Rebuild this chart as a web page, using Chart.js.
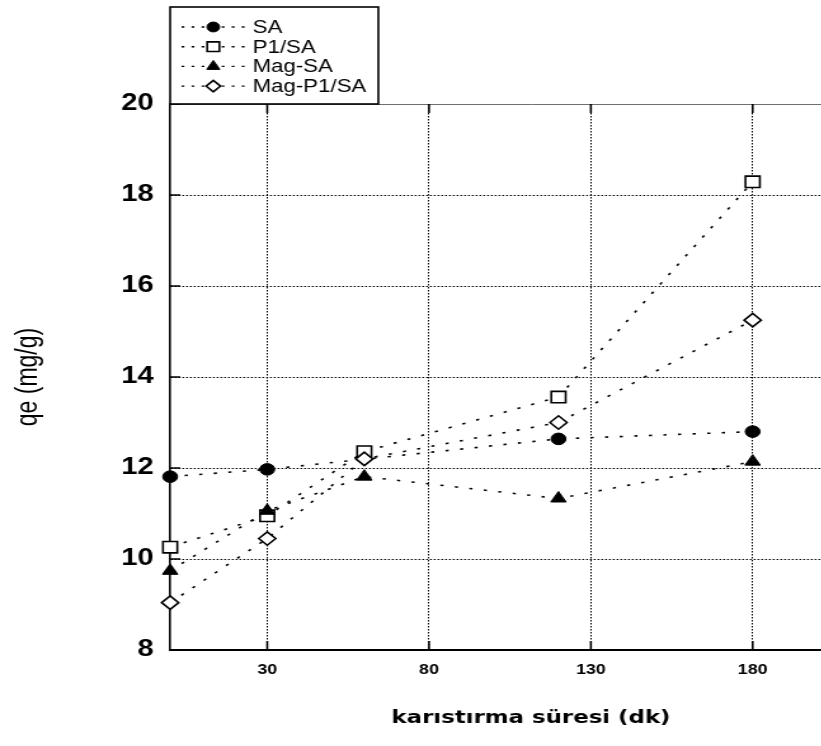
<!DOCTYPE html>
<html>
<head>
<meta charset="utf-8">
<title>qe - karıstırma süresi</title>
<script src="https://cdn.jsdelivr.net/npm/chart.js@4/dist/chart.umd.min.js"></script>
<style>
  html, body { margin: 0; padding: 0; background: #fff; overflow: hidden; }
</style>
</head>
<body>
<!-- canvas is drawn narrow and widened by css, the plot runs off the right edge -->
<canvas id="qeChart" width="712" height="746" style="display:block;width:904px;height:746px"></canvas>
<script>
// karıstırma süresi (dk)
var timeValues = [0, 30, 60, 120, 180];
// qe (mg/g) per sample, null where there is no measurement
var saValues = [11.81, 11.97, null, 12.64, 12.80];
var p1saValues = [10.26, 10.95, 12.36, 13.56, 18.29];
var magSaValues = [9.74, 11.06, 11.81, 11.33, 12.14];
var magP1saValues = [9.04, 10.45, 12.20, 13.00, 15.25];

var seriesLabels = ['SA', 'P1/SA', 'Mag-SA', 'Mag-P1/SA'];
var xTickValues = [30, 80, 130, 180];

var FONT = '"Liberation Sans", Arial, sans-serif';

function points(vals) {
  return timeValues.map(function (t, i) { return { x: t, y: vals[i] }; });
}

function series(label, vals, style, radius, filled, order) {
  return {
    label: label,
    data: points(vals),
    order: order,
    showLine: true,
    spanGaps: true,
    fill: false,
    clip: false,
    borderColor: '#000',
    borderWidth: 1.6,
    borderDash: [2.5, 9],
    pointStyle: style,
    pointRadius: radius,
    pointHoverRadius: radius,
    pointBackgroundColor: filled ? '#000' : '#fff',
    pointBorderColor: '#000',
    pointBorderWidth: filled ? 1 : 1.6
  };
}

function line(ctx, x1, y1, x2, y2) {
  ctx.beginPath();
  ctx.moveTo(x1, y1);
  ctx.lineTo(x2, y2);
  ctx.stroke();
}

// top edge of the frame and the short inward tick marks
var frameMarks = {
  id: 'frameMarks',
  beforeDatasetsDraw: function (chart) {
    var ctx = chart.ctx, a = chart.chartArea;
    var xs = chart.scales.x, ys = chart.scales.y;
    ctx.save();
    ctx.strokeStyle = '#707070';
    ctx.lineWidth = 1;
    line(ctx, a.left, a.top + 0.5, a.right, a.top + 0.5);
    ctx.strokeStyle = '#000';
    ctx.lineWidth = 1.6;
    xs.ticks.forEach(function (t) {
      var px = xs.getPixelForValue(t.value);
      line(ctx, px, a.bottom, px, a.bottom - 9);
      line(ctx, px, a.top, px, a.top + 9);
    });
    ctx.lineWidth = 1.5;
    ys.ticks.forEach(function (t) {
      var py = ys.getPixelForValue(t.value);
      line(ctx, a.left, py, a.left + 8, py);
    });
    ctx.restore();
  }
};

// boxed legend sitting on top of the plot, upper left
var boxLegend = {
  id: 'boxLegend',
  afterDraw: function (chart) {
    var ctx = chart.ctx, a = chart.chartArea;
    var left = a.left, top = 7, right = 298, bottom = a.top;
    ctx.save();
    ctx.fillStyle = '#fff';
    ctx.fillRect(left, top, right - left, bottom - top);
    ctx.strokeStyle = '#000';
    ctx.lineWidth = 1.6;
    ctx.strokeRect(left, top, right - left, bottom - top);

    chart.data.datasets.forEach(function (ds, i) {
      var ry = 27 + i * 19.7;
      ctx.strokeStyle = '#000';
      ctx.lineWidth = 1.4;
      ctx.setLineDash([2.2, 5.7]);
      line(ctx, left + 9, ry, left + 61, ry);
      ctx.setLineDash([]);
      ctx.fillStyle = ds.pointBackgroundColor;
      ctx.lineWidth = ds.pointBorderWidth;
      Chart.helpers.drawPoint(ctx, {
        pointStyle: ds.pointStyle,
        rotation: 0,
        radius: ds.pointRadius * 0.85,
        borderWidth: ds.pointBorderWidth
      }, left + 34, ry);
      ctx.fillStyle = '#000';
      ctx.font = '17.5px ' + FONT;
      ctx.textBaseline = 'middle';
      ctx.textAlign = 'left';
      ctx.fillText(ds.label, left + 65, ry + 1);
    });
    ctx.restore();
  }
};

new Chart(document.getElementById('qeChart'), {
  type: 'scatter',
  data: {
    datasets: [
      series(seriesLabels[0], saValues, 'circle', 5.8, true, 4),
      series(seriesLabels[1], p1saValues, 'rect', 8, false, 3),
      series(seriesLabels[2], magSaValues, 'triangle', 7, true, 2),
      series(seriesLabels[3], magP1saValues, 'rectRot', 6.7, false, 1)
    ]
  },
  options: {
    responsive: false,
    devicePixelRatio: 1,
    animation: false,
    events: [],
    layout: { padding: { top: 104, left: 0, right: 0, bottom: 0 } },
    plugins: {
      legend: { display: false },
      tooltip: { enabled: false }
    },
    scales: {
      x: {
        type: 'linear',
        min: 0,
        max: 223,
        afterBuildTicks: function (scale) {
          scale.ticks = xTickValues.map(function (v) { return { value: v }; });
        },
        afterFit: function (scale) { scale.height = 96; },
        grid: { color: '#000', lineWidth: 1, drawTicks: false },
        border: { display: true, color: '#000', width: 2, dash: [1.5, 1.5] },
        ticks: {
          color: '#000',
          padding: 12,
          maxRotation: 0,
          font: { family: FONT, size: 14, weight: 'bold' }
        },
        title: {
          display: true,
          text: 'karıstırma süresi (dk)',
          color: '#000',
          padding: { top: 0, bottom: 17 },
          font: { family: '"DejaVu Sans", ' + FONT, size: 18, weight: 'bold' }
        }
      },
      y: {
        type: 'linear',
        min: 8,
        max: 20,
        afterFit: function (scale) { scale.width = 134; },
        grid: { color: '#000', lineWidth: 1, drawTicks: false },
        border: { display: true, color: '#000', width: 1.6, dash: [1.5, 1.5] },
        ticks: {
          stepSize: 2,
          color: '#000',
          padding: 13,
          font: { family: FONT, size: 23, weight: 'bold' }
        },
        title: {
          display: true,
          text: 'qe (mg/g)',
          color: '#000',
          padding: { top: 9, bottom: 0 },
          font: { family: FONT, size: 23, weight: 'normal' }
        }
      }
    }
  },
  plugins: [frameMarks, boxLegend]
});
</script>
</body>
</html>
